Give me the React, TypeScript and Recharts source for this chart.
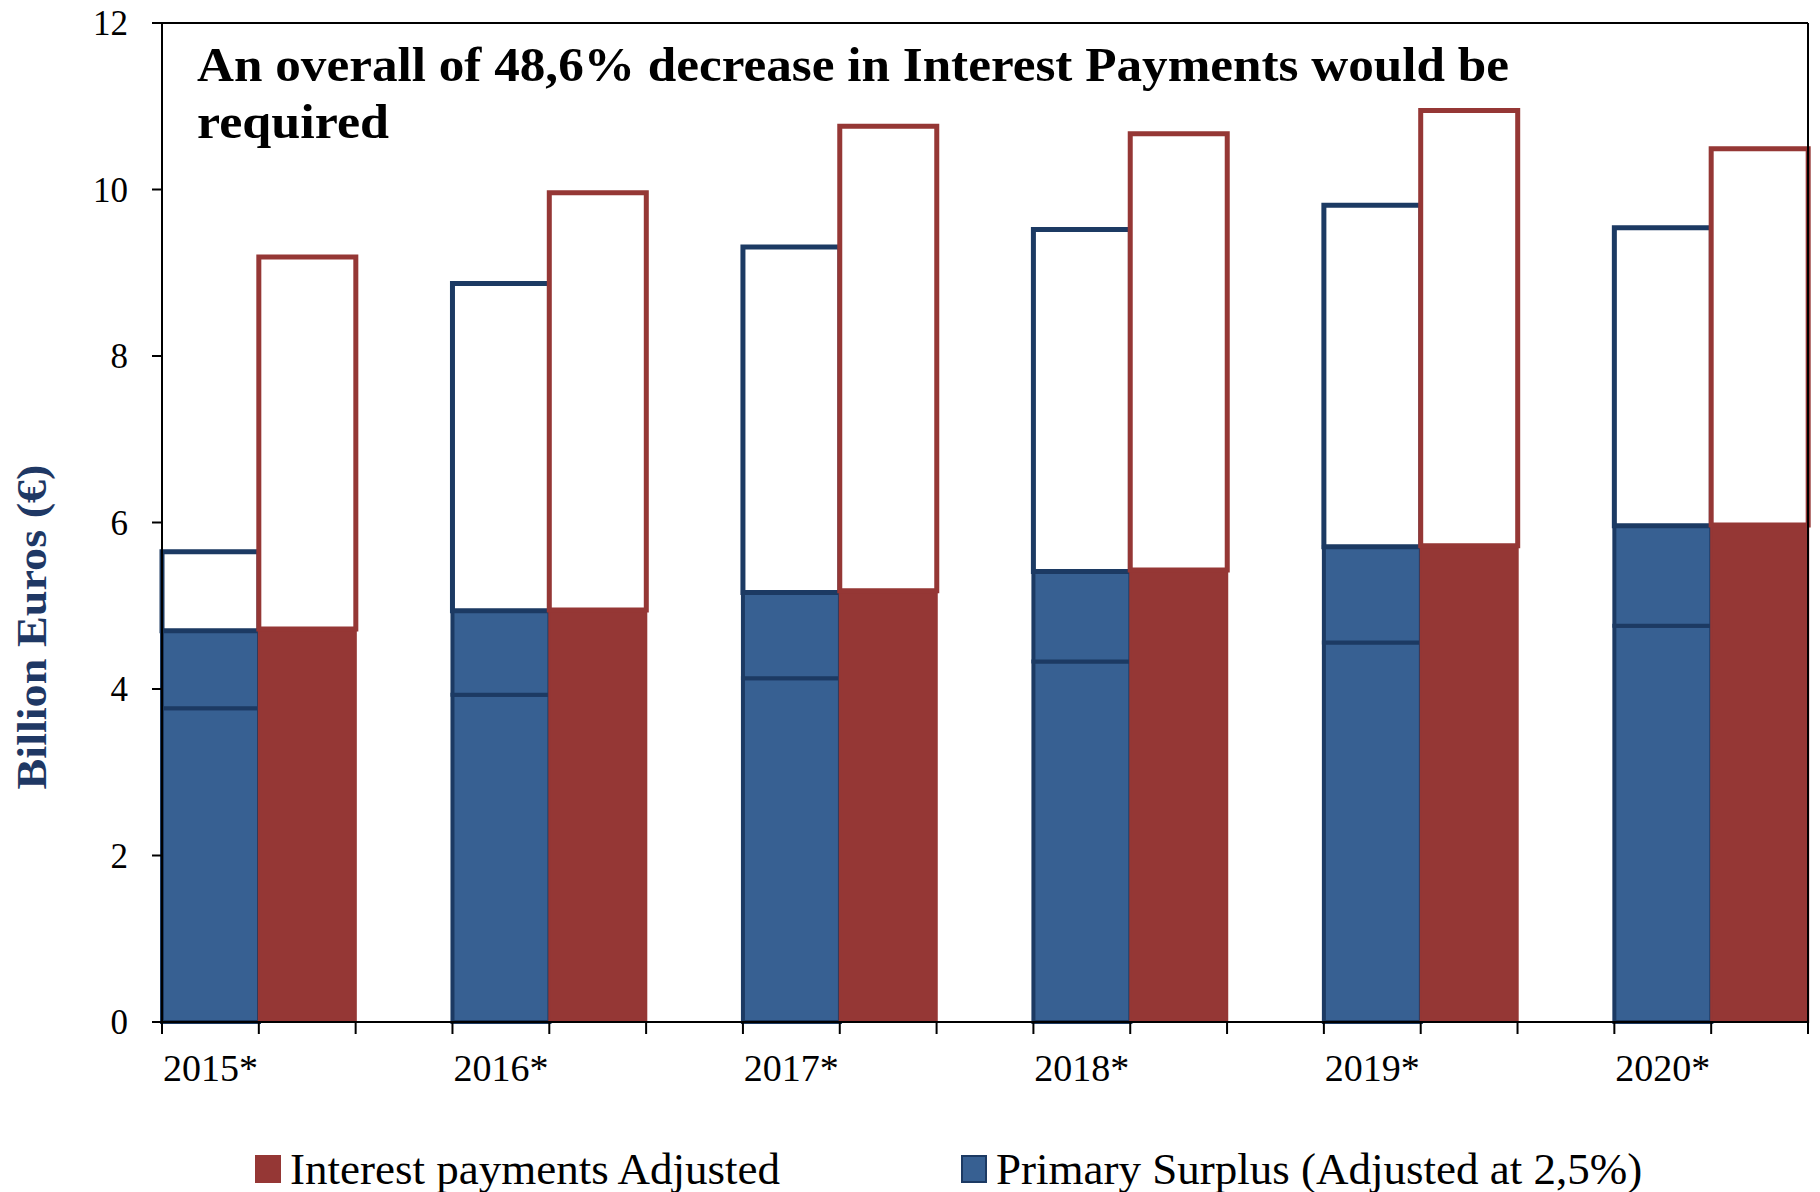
import { BarChart, Bar, XAxis, YAxis, ReferenceLine } from 'recharts';

document.body.style.margin = '0';

const years = ['2015*', '2016*', '2017*', '2018*', '2019*', '2020*'];
// cumulative levels (billion euros)
const surplusBase = [3.77, 3.93, 4.13, 4.33, 4.56, 4.76];
const surplusAdjusted = [4.7, 4.94, 5.16, 5.41, 5.71, 5.96];
const surplusTop = [5.65, 8.87, 9.31, 9.52, 9.81, 9.54];
const interestAdjusted = [4.72, 4.95, 5.18, 5.43, 5.72, 5.97];
const interestTop = [9.19, 9.96, 10.76, 10.67, 10.95, 10.49];
const yTicks = [0, 2, 4, 6, 8, 10, 12];

const BLUE = '#376092';
const NAVY = '#1c3a63';
const RED = '#953735';
const FONT = '"Liberation Serif", "Times New Roman", serif';

type Row = {
  slot: string;
  label: string;
  b1?: number;
  b2?: number;
  b3?: number;
  r1?: number;
  r2?: number;
};

// three slots per year: surplus bar, interest bar, empty gap (last gap dropped)
const rows: Row[] = [];
years.forEach((year, i) => {
  rows.push({
    slot: `s${i}`,
    label: year,
    b1: surplusBase[i],
    b2: surplusAdjusted[i] - surplusBase[i],
    b3: surplusTop[i] - surplusAdjusted[i],
  });
  rows.push({
    slot: `i${i}`,
    label: '',
    r1: interestAdjusted[i],
    r2: interestTop[i] - interestAdjusted[i],
  });
  if (i < years.length - 1) rows.push({ slot: `g${i}`, label: '' });
});
const lastSlot = rows[rows.length - 1].slot;

const XTick = (props: any) => {
  const { x, y, payload, index, width } = props;
  const half = payload?.offset ?? width / rows.length / 2;
  const last = index === rows.length - 1;
  const label = rows[index]?.label;
  return (
    <g>
      <line x1={x - half} x2={x - half} y1={y} y2={y + 12} stroke="#000" strokeWidth={2} />
      {last && <line x1={x + half} x2={x + half} y1={y} y2={y + 12} stroke="#000" strokeWidth={2} />}
      {label && (
        <text x={x} y={y + 59} textAnchor="middle" fontSize={38} fontFamily={FONT} fill="#000">
          {label}
        </text>
      )}
    </g>
  );
};

const legendItems = [
  { name: 'Interest payments Adjusted', fill: RED, stroke: RED, left: 255 },
  { name: 'Primary Surplus (Adjusted at 2,5%)', fill: BLUE, stroke: NAVY, left: 961 },
];

export default function App() {
  return (
    <div style={{ position: 'relative', width: 1820, height: 1192, background: '#fff' }}>
      <BarChart
        width={1820}
        height={1192}
        data={rows}
        margin={{ top: 23, right: 12, left: 0, bottom: 0 }}
        barCategoryGap={0}
        barGap={0}
      >
        <ReferenceLine y={12} stroke="#000" strokeWidth={2} />
        <ReferenceLine x={lastSlot} position="end" stroke="#000" strokeWidth={2} />

        <Bar dataKey="b1" stackId="s" fill={BLUE} stroke={NAVY} strokeWidth={4} isAnimationActive={false} />
        <Bar dataKey="b2" stackId="s" fill={BLUE} stroke={NAVY} strokeWidth={4} isAnimationActive={false} />
        <Bar dataKey="b3" stackId="s" fill="#fff" stroke={NAVY} strokeWidth={5} isAnimationActive={false} />
        <Bar dataKey="r1" stackId="s" fill={RED} stroke={RED} strokeWidth={2} isAnimationActive={false} />
        <Bar dataKey="r2" stackId="s" fill="#fff" stroke={RED} strokeWidth={5} isAnimationActive={false} />

        <XAxis
          dataKey="slot"
          interval={0}
          height={170}
          tickSize={0}
          tickMargin={0}
          tickLine={false}
          axisLine={{ stroke: '#000', strokeWidth: 2 }}
          tick={<XTick />}
        />
        <YAxis
          domain={[0, 12]}
          ticks={yTicks}
          width={162}
          tickSize={10}
          tickMargin={24}
          axisLine={{ stroke: '#000', strokeWidth: 2 }}
          tickLine={{ stroke: '#000', strokeWidth: 2 }}
          tick={{ fill: '#000', fontSize: 35, fontFamily: FONT }}
        />

        <text
          x={197}
          y={81}
          fontSize={48}
          fontWeight={700}
          fontFamily={FONT}
          fill="#000"
          textLength={1312}
          lengthAdjust="spacingAndGlyphs"
        >
          An overall of 48,6% decrease in Interest Payments would be
        </text>
        <text
          x={197}
          y={138}
          fontSize={48}
          fontWeight={700}
          fontFamily={FONT}
          fill="#000"
          textLength={192}
          lengthAdjust="spacingAndGlyphs"
        >
          required
        </text>
        <text
          x={32}
          y={627}
          transform="rotate(-90, 32, 627)"
          textAnchor="middle"
          dominantBaseline="central"
          fontSize={42}
          fontWeight={700}
          fontFamily={FONT}
          fill="#1f3864"
          textLength={325}
          lengthAdjust="spacingAndGlyphs"
        >
          Billion Euros (€)
        </text>
      </BarChart>

      {legendItems.map((item) => (
        <div
          key={item.name}
          style={{
            position: 'absolute',
            left: item.left,
            top: 1145,
            height: 48,
            display: 'flex',
            alignItems: 'center',
            fontFamily: FONT,
            fontSize: 45,
            color: '#000',
            whiteSpace: 'nowrap',
          }}
        >
          <span
            style={{
              display: 'inline-block',
              width: 22,
              height: 24,
              background: item.fill,
              border: `2px solid ${item.stroke}`,
              marginRight: 9,
            }}
          />
          {item.name}
        </div>
      ))}
    </div>
  );
}
